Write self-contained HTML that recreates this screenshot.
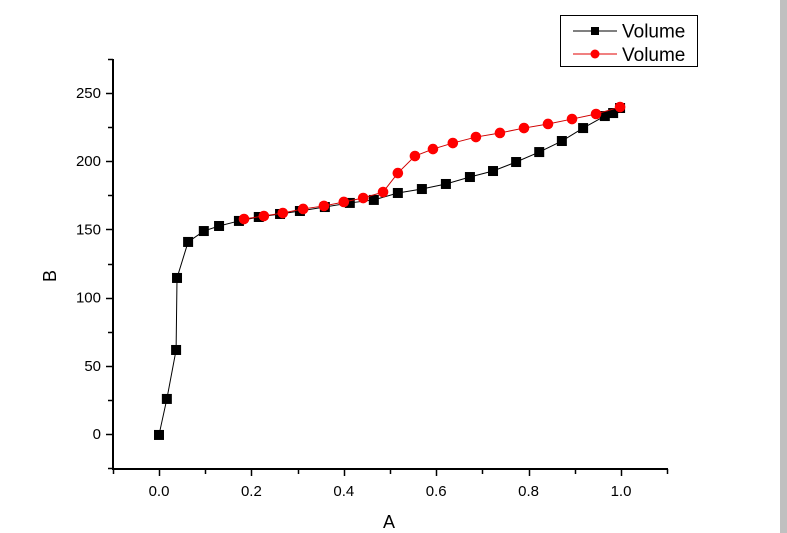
<!DOCTYPE html>
<html><head><meta charset="utf-8"><style>
html,body{margin:0;padding:0;background:#fff;width:787px;height:533px;overflow:hidden}
text{font-family:"Liberation Sans",Arial,sans-serif}
</style></head><body>
<svg id="chart" width="787" height="533" xmlns="http://www.w3.org/2000/svg">
<rect x="780" y="0" width="7" height="533" fill="#c0c0c0"/>
<g id="axes"></g><g id="series"></g>
<g>
<rect x="560.5" y="15.5" width="137" height="51" fill="#fff" stroke="#000"/>
<g>
<line x1="573" y1="31" x2="617" y2="31" stroke="#000"/><rect x="591" y="27" width="8" height="8" fill="#000"/>
<text x="622" y="37.5" font-size="19">Volume</text></g>
<g>
<line x1="573" y1="54" x2="617" y2="54" stroke="#e00000"/><circle cx="595" cy="54" r="4.5" fill="#f00"/>
<text x="622" y="61" font-size="19">Volume</text></g>
</g>
<text x="389" y="528" font-size="18" text-anchor="middle">A</text>
<text x="0" y="0" font-size="18" text-anchor="middle" transform="translate(56,276) rotate(-90)">B</text>
</svg>
<script>
const blackX=[0,0.017,0.037,0.039,0.063,0.097,0.13,0.173,0.216,0.262,0.305,0.359,0.413,0.465,0.517,0.569,0.621,0.673,0.723,0.773,0.823,0.872,0.918,0.965,0.983,0.998];
const blackY=[-0.7,25.7,61.6,114.4,140.8,148.8,152.5,156.2,159.1,161.3,163.5,166.4,169.4,171.6,176.7,179.6,183.3,188.4,192.8,199.4,206.7,214.8,224.3,233.1,235.3,239];
const redX=[0.184,0.227,0.268,0.312,0.357,0.4,0.442,0.485,0.517,0.554,0.593,0.636,0.686,0.738,0.79,0.842,0.894,0.946,0.998];
const redY=[157.6,159.8,162,165,167.2,170.1,173,177.4,191.3,203.8,208.9,213.3,217.7,220.7,224.3,227.3,230.9,234.6,239.7];
const xTicks=[0,0.2,0.4,0.6,0.8,1.0];
const xTickLabels=["0.0","0.2","0.4","0.6","0.8","1.0"];
const yTicks=[0,50,100,150,200,250];
const yTickLabels=["0","50","100","150","200","250"];
const NS="http://www.w3.org/2000/svg";
const sx=v=>159+v*462, sy=v=>434-v*1.364;
function mk(t,a,p){const e=document.createElementNS(NS,t);for(const k in a)e.setAttribute(k,a[k]);p.appendChild(e);return e;}
const ax=document.getElementById('axes'), se=document.getElementById('series');
let l=mk('line',{x1:113,y1:59,x2:113,y2:470,stroke:'#000','stroke-width':2},ax);


l=mk('line',{x1:112,y1:469,x2:668,y2:469,stroke:'#000','stroke-width':2},ax);


for(let v=-0.1;v<=1.101;v+=0.1){const x=Math.round(sx(v))+0.5;const major=Math.abs(Math.round(v*10)%2)===0;mk('line',{x1:x,y1:469,x2:x,y2:major?476:474,stroke:'#000','stroke-width':1.5},ax);}
for(let v=-25;v<=275;v+=25){const y=Math.round(sy(v))+0.5;const major=v%50===0;mk('line',{x1:113,y1:y,x2:major?106:108,y2:y,stroke:'#000','stroke-width':1.5},ax);}
xTicks.forEach((v,i)=>{const t=mk('text',{x:sx(v),y:496,'font-size':15,'text-anchor':'middle'},ax);t.textContent=xTickLabels[i];

});
yTicks.forEach((v,i)=>{const t=mk('text',{x:101,y:sy(v)+5,'font-size':15,'text-anchor':'end'},ax);t.textContent=yTickLabels[i];

});
let p=mk('polyline',{points:blackX.map((x,i)=>sx(x)+','+sy(blackY[i])).join(' '),fill:'none',stroke:'#000','stroke-width':1},se);


blackX.forEach((x,i)=>{const r=mk('rect',{x:sx(x)-5,y:sy(blackY[i])-5,width:10,height:10,fill:'#000'},se);

});
p=mk('polyline',{points:redX.map((x,i)=>sx(x)+','+sy(redY[i])).join(' '),fill:'none',stroke:'#d00000','stroke-width':1},se);


redX.forEach((x,i)=>{const c=mk('circle',{cx:sx(x),cy:sy(redY[i]),r:5.3,fill:'#f00'},se);

});
</script>
</body></html>
